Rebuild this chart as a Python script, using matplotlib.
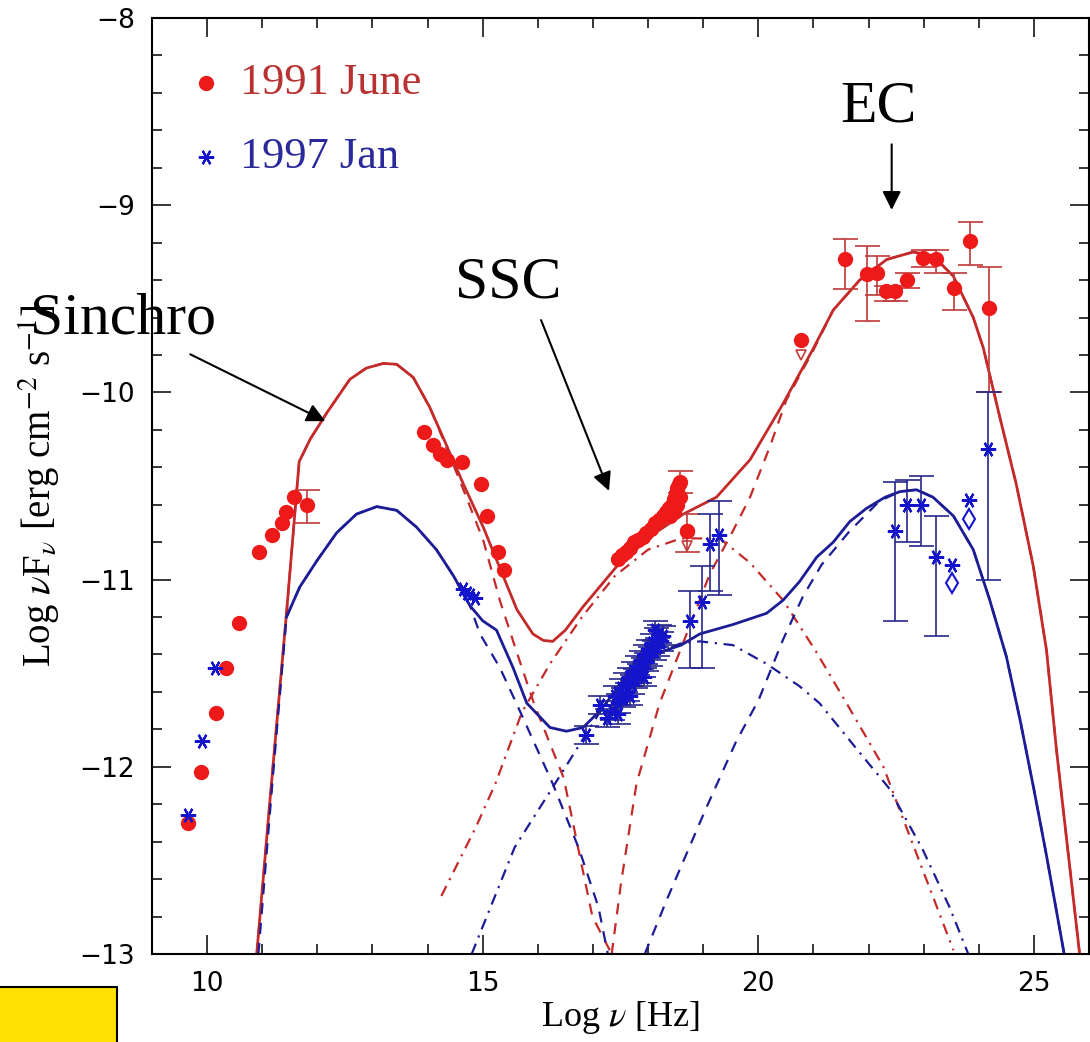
import matplotlib
matplotlib.use("Agg")
import matplotlib.pyplot as plt
from matplotlib.patches import Rectangle
import numpy as np

plt.rcParams['mathtext.fontset'] = 'stix'

# ---- data (log nu [Hz], log nuFnu) ----
# 1991 June, points without error bars
red_x = [9.65, 9.89, 10.16, 10.34, 10.57, 10.95, 11.18, 11.36, 11.43, 11.58,
         13.93, 14.10, 14.22, 14.36, 14.63, 14.97, 15.08, 15.27, 15.39,
         17.45, 17.52, 17.60, 17.68, 17.75, 17.82, 17.90, 17.97, 18.05, 18.12,
         18.20, 18.27, 18.33, 18.38, 18.43, 18.47, 18.50, 18.53, 18.56, 18.52,
         18.47, 18.58, 18.40]
red_y = [-12.30, -12.03, -11.71, -11.47, -11.23, -10.85, -10.76, -10.70, -10.64, -10.56,
         -10.21, -10.28, -10.33, -10.36, -10.37, -10.49, -10.66, -10.85, -10.95,
         -10.89, -10.87, -10.85, -10.83, -10.80, -10.79, -10.77, -10.75, -10.73, -10.70,
         -10.68, -10.66, -10.64, -10.62, -10.60, -10.57, -10.54, -10.51, -10.49, -10.60,
         -10.64, -10.56, -10.66]
# 1991 June, points with error bars
red_ex = [11.82, 18.58, 18.70, 21.58, 21.98, 22.16, 22.32, 22.48, 22.70, 22.98,
          23.23, 23.55, 23.84, 24.18]
red_ey = [-10.60, -10.48, -10.74, -9.29, -9.37, -9.36, -9.46, -9.46, -9.40, -9.28,
          -9.29, -9.44, -9.19, -9.55]
red_elo = [0.10, 0.06, 0.11, 0.16, 0.25, 0.12, 0.05, 0.05, 0.04, 0.05,
           0.07, 0.12, 0.13, 0.45]
red_ehi = [0.08, 0.06, 0.09, 0.11, 0.15, 0.09, 0.03, 0.03, 0.04, 0.04,
           0.05, 0.08, 0.10, 0.22]
# 1991 June upper limits
red_ul_x = [20.77, 18.70]
red_ul_y = [-9.72, -10.74]

# 1997 Jan, points without error bars
blue_x = [9.65, 9.90, 10.14, 14.65, 14.72, 14.77, 14.86]
blue_y = [-12.26, -11.86, -11.47, -11.05, -11.07, -11.08, -11.10]
# 1997 Jan, points with error bars
blue_ex = [16.88, 17.13, 17.25, 17.35, 17.40, 17.45, 17.45, 17.50, 17.55, 17.58,
           17.62, 17.66, 17.68, 17.70, 17.73, 17.77, 17.80, 17.84, 17.87, 17.90,
           17.92, 17.94, 17.97, 18.00, 18.04, 18.07, 18.10, 18.12, 18.14, 18.17,
           18.20, 18.24, 18.28,
           18.76, 18.97, 19.13, 19.29,
           22.48, 22.70, 22.96, 23.22, 24.17]
blue_ey = [-11.83, -11.67, -11.74, -11.70, -11.62, -11.66, -11.72, -11.58, -11.63, -11.55,
           -11.60, -11.52, -11.62, -11.56, -11.49, -11.53, -11.46, -11.50, -11.43, -11.47,
           -11.52, -11.40, -11.44, -11.37, -11.41, -11.34, -11.38, -11.27, -11.31, -11.36,
           -11.29, -11.33, -11.30,
           -11.22, -11.12, -10.81, -10.76,
           -10.74, -10.60, -10.60, -10.88, -10.30]
blue_elo = [0.05] * 33 + [0.25, 0.35, 0.25, 0.32, 0.48, 0.20, 0.22, 0.42, 0.70]
blue_ehi = [0.05] * 33 + [0.16, 0.19, 0.16, 0.18, 0.26, 0.13, 0.155, 0.22, 0.30]
# 1997 Jan upper limits
blue_ul_x = [23.52, 23.83]
blue_ul_y = [-10.92, -10.575]

# ---- model curves ----
red_tot_x = [10.90, 11.14, 11.44, 11.67, 11.87, 12.17, 12.59, 12.89, 13.20, 13.44,
             13.74, 14.04, 14.28, 14.65, 15.01, 15.37, 15.62, 15.91, 16.10, 16.27,
             16.50, 16.82, 17.43, 18.03, 18.64, 19.24, 19.85, 20.45, 20.99, 21.36,
             21.84, 22.33, 22.81, 23.17, 23.54, 23.90, 24.08, 24.38, 24.68, 24.99,
             25.23, 25.41, 25.83]
red_tot_y = [-13.0, -12.18, -11.18, -10.37, -10.25, -10.11, -9.93, -9.87, -9.845, -9.85,
             -9.92, -10.08, -10.24, -10.49, -10.72, -10.98, -11.16, -11.29, -11.325, -11.33,
             -11.27, -11.145, -10.93, -10.77, -10.65, -10.56, -10.36, -10.06, -9.77, -9.56,
             -9.40, -9.29, -9.25, -9.27, -9.38, -9.60, -9.76, -10.13, -10.49, -10.93,
             -11.38, -11.91, -13.0]
red_syn_x = [10.90, 11.14, 11.44, 11.67, 11.87, 12.17, 12.59, 12.89, 13.20, 13.44,
             13.74, 14.04, 14.28, 14.65, 15.01, 15.31, 15.62, 15.94, 16.47, 16.75,
             16.99, 17.34]
red_syn_y = [-13.0, -12.18, -11.18, -10.37, -10.25, -10.11, -9.93, -9.87, -9.845, -9.85,
             -9.92, -10.08, -10.25, -10.52, -10.79, -11.11, -11.39, -11.67, -12.06, -12.46,
             -12.80, -13.0]
red_ssc_x = [14.25, 14.88, 15.23, 15.71, 16.22, 16.80, 17.40, 18.00, 18.60, 19.30,
             19.85, 20.45, 21.06, 21.60, 22.27, 22.50, 23.19, 23.54]
red_ssc_y = [-12.69, -12.32, -12.09, -11.71, -11.45, -11.20, -10.98, -10.84, -10.78, -10.78,
             -10.91, -11.11, -11.39, -11.66, -12.00, -12.18, -12.71, -12.98]
red_ec_x = [17.34, 17.51, 17.79, 18.21, 18.33, 18.70, 19.12, 19.54, 19.85, 20.21,
            20.51, 20.99, 21.36, 21.84, 22.33, 22.81, 23.17, 23.54, 23.90, 24.08,
            24.38, 24.68, 24.99, 25.23, 25.41, 25.83]
red_ec_y = [-13.0, -12.62, -12.09, -11.66, -11.57, -11.29, -10.97, -10.74, -10.56, -10.29,
            -10.04, -9.78, -9.56, -9.40, -9.29, -9.25, -9.27, -9.38, -9.60, -9.76,
            -10.13, -10.49, -10.93, -11.38, -11.91, -13.0]

blue_tot_x = [11.44, 11.68, 11.99, 12.35, 12.71, 13.08, 13.44, 13.80, 14.16, 14.47,
              14.77, 15.00, 15.25, 15.55, 15.80, 16.22, 16.52, 16.82, 17.13, 17.50,
              17.90, 18.30, 18.60, 18.94, 19.54, 20.15, 20.45, 20.75, 21.06, 21.36,
              21.66, 21.96, 22.30, 22.57, 22.87, 23.17, 23.54, 23.90, 24.20, 24.50,
              24.75, 25.00, 25.22, 25.55]
blue_tot_y = [-11.20, -11.04, -10.90, -10.75, -10.65, -10.61, -10.63, -10.72, -10.84, -10.98,
              -11.14, -11.22, -11.27, -11.47, -11.66, -11.79, -11.81, -11.79, -11.70, -11.56,
              -11.44, -11.38, -11.35, -11.29, -11.24, -11.18, -11.11, -11.01, -10.88, -10.80,
              -10.69, -10.62, -10.56, -10.53, -10.52, -10.56, -10.66, -10.84, -11.11, -11.41,
              -11.75, -12.12, -12.46, -13.0]
blue_syn_x = [10.93, 11.18, 11.44, 11.68, 11.99, 12.35, 12.71, 13.08, 13.44, 13.80,
              14.16, 14.47, 14.77, 14.95, 15.31, 15.61, 16.27, 16.75, 17.10, 17.27]
blue_syn_y = [-13.0, -12.10, -11.20, -11.04, -10.90, -10.75, -10.65, -10.61, -10.63, -10.72,
              -10.84, -10.98, -11.14, -11.29, -11.47, -11.66, -12.09, -12.44, -12.75, -13.0]
blue_ssc_x = [14.80, 15.58, 16.27, 16.61, 17.10, 17.60, 18.10, 18.60, 18.94, 19.54,
              20.15, 20.75, 21.11, 21.80, 22.36, 22.98, 23.47, 23.81]
blue_ssc_y = [-13.0, -12.43, -12.11, -11.95, -11.72, -11.52, -11.40, -11.34, -11.33, -11.35,
              -11.45, -11.57, -11.66, -11.91, -12.11, -12.44, -12.75, -13.0]
blue_ec_x = [17.94, 18.34, 19.04, 19.59, 20.01, 20.45, 20.81, 21.15, 21.66, 22.20,
             22.57, 22.87, 23.17, 23.54, 23.90, 24.20, 24.50, 24.75, 25.00, 25.22, 25.55]
blue_ec_y = [-13.0, -12.71, -12.23, -11.87, -11.64, -11.32, -11.09, -10.92, -10.74, -10.58,
             -10.53, -10.52, -10.56, -10.66, -10.84, -11.11, -11.41, -11.75, -12.12, -12.46, -13.0]

RED_PT = '#ee1a1a'
RED_LN = '#c42a2a'
BLUE_PT = '#1414cc'
BLUE_LN = '#1c1c96'
STAR = (6, 2, 30)

fig = plt.figure(figsize=(10.9, 10.42), dpi=100)
ax = fig.add_axes([152 / 1090, 1 - 954 / 1042, 937 / 1090, 936 / 1042])

dash = (0, (5, 4))
dashdot = (0, (5, 3, 1, 3))

# model curves
ax.plot(red_tot_x, red_tot_y, color=RED_LN, lw=2.0)
ax.plot(red_syn_x, red_syn_y, color=RED_LN, lw=1.6, ls=dash)
ax.plot(red_ssc_x, red_ssc_y, color=RED_LN, lw=1.6, ls=dashdot)
ax.plot(red_ec_x, red_ec_y, color=RED_LN, lw=1.6, ls=dash)
ax.plot(blue_tot_x, blue_tot_y, color=BLUE_LN, lw=2.0)
ax.plot(blue_syn_x, blue_syn_y, color=BLUE_LN, lw=1.6, ls=dash)
ax.plot(blue_ssc_x, blue_ssc_y, color=BLUE_LN, lw=1.6, ls=dashdot)
ax.plot(blue_ec_x, blue_ec_y, color=BLUE_LN, lw=1.6, ls=dash)

# 1991 June
ax.errorbar(red_ex, red_ey, yerr=[red_elo, red_ehi], fmt='o', color=RED_PT,
            ecolor='#c03a3a', elinewidth=1.2, capsize=9, capthick=1.2, ms=10, zorder=4)
ax.plot(red_x, red_y, 'o', color=RED_PT, ms=10, zorder=4)
ax.plot(red_ul_x, red_ul_y, 'o', color=RED_PT, ms=10, zorder=4)
ax.plot(red_ul_x, np.array(red_ul_y) - 0.08, marker='v', ls='none', ms=7,
        mfc='none', mec='#c03a3a', mew=1.2, zorder=4)

# 1997 Jan
ax.errorbar(blue_ex, blue_ey, yerr=[blue_elo, blue_ehi], fmt='none',
            ecolor='#26268c', elinewidth=1.2, capsize=9, capthick=1.2, zorder=5)
ax.plot(blue_ex, blue_ey, marker=STAR, ls='none', color=BLUE_PT, ms=11, mew=1.6, zorder=5)
ax.plot(blue_x, blue_y, marker=STAR, ls='none', color=BLUE_PT, ms=11, mew=1.6, zorder=5)
ax.plot(blue_ul_x, blue_ul_y, marker=STAR, ls='none', color=BLUE_PT, ms=11, mew=1.6, zorder=5)
ax.plot(blue_ul_x, np.array(blue_ul_y) - 0.1, marker='d', ls='none', ms=10,
        mfc='none', mec=BLUE_PT, mew=1.5, zorder=5)

# legend
ax.plot([0.058], [0.931], 'o', color=RED_PT, ms=10, transform=ax.transAxes)
ax.plot([0.058], [0.852], marker=STAR, color=BLUE_PT, ms=11, mew=1.6, transform=ax.transAxes)
ax.text(0.094, 0.931, '1991 June', color='#b83232', fontsize=32, family='Liberation Serif',
        va='center', transform=ax.transAxes)
ax.text(0.094, 0.852, '1997 Jan', color='#2a2a9a', fontsize=32, family='Liberation Serif',
        va='center', transform=ax.transAxes)

ax.set_xlim(9, 26)
ax.set_ylim(-13, -8)
ax.set_xticks([10, 15, 20, 25])
ax.set_xticks(np.arange(9, 27, 1), minor=True)
ax.set_yticks([-13, -12, -11, -10, -9, -8])
ax.set_yticks(np.arange(-13, -7.9, 0.2), minor=True)
ax.tick_params(which='both', direction='in', top=True, right=True, width=1.1,
               labelsize=19, colors='black')
ax.tick_params(which='major', length=14, pad=12)
ax.tick_params(which='minor', length=7)
for s in ax.spines.values():
    s.set_linewidth(1.5)

ax.set_xlabel(r'Log $\nu$ [Hz]', fontsize=26, family='Liberation Serif', labelpad=2)
ax.set_ylabel(r'Log $\nu$F$_\nu$ [erg cm$^{-2}$ s$^{-1}$]', fontsize=28,
              family='Liberation Serif', labelpad=12)

# annotations
ax.annotate('', xy=(12.19, -10.16), xytext=(9.65, -9.79),
            arrowprops=dict(arrowstyle='-|>', color='black', lw=1.5,
                            mutation_scale=28), annotation_clip=False)
ax.annotate('', xy=(17.31, -10.54), xytext=(16.04, -9.60),
            arrowprops=dict(arrowstyle='-|>', color='black', lw=1.5,
                            mutation_scale=28))
ax.annotate('', xy=(22.42, -9.04), xytext=(22.42, -8.66),
            arrowprops=dict(arrowstyle='-|>', color='black', lw=1.5,
                            mutation_scale=28))
fig.text(30 / 1090, 1 - 333 / 1042, 'Sinchro', fontsize=43, family='Liberation Serif',
         va='baseline', ha='left', zorder=10)
fig.text(455 / 1090, 1 - 297 / 1042, 'SSC', fontsize=43, family='Liberation Serif',
         va='baseline', ha='left', zorder=10)
fig.text(840 / 1090, 1 - 122 / 1042, 'EC', fontsize=43, family='Liberation Serif',
         va='baseline', ha='left', zorder=10)

fig.patches.append(Rectangle((-0.01, -0.01), 0.01 + 117 / 1090, 0.01 + 55 / 1042,
                             transform=fig.transFigure, facecolor='#ffe000',
                             edgecolor='black', lw=1.5))

fig.savefig('out.png', dpi=100)
